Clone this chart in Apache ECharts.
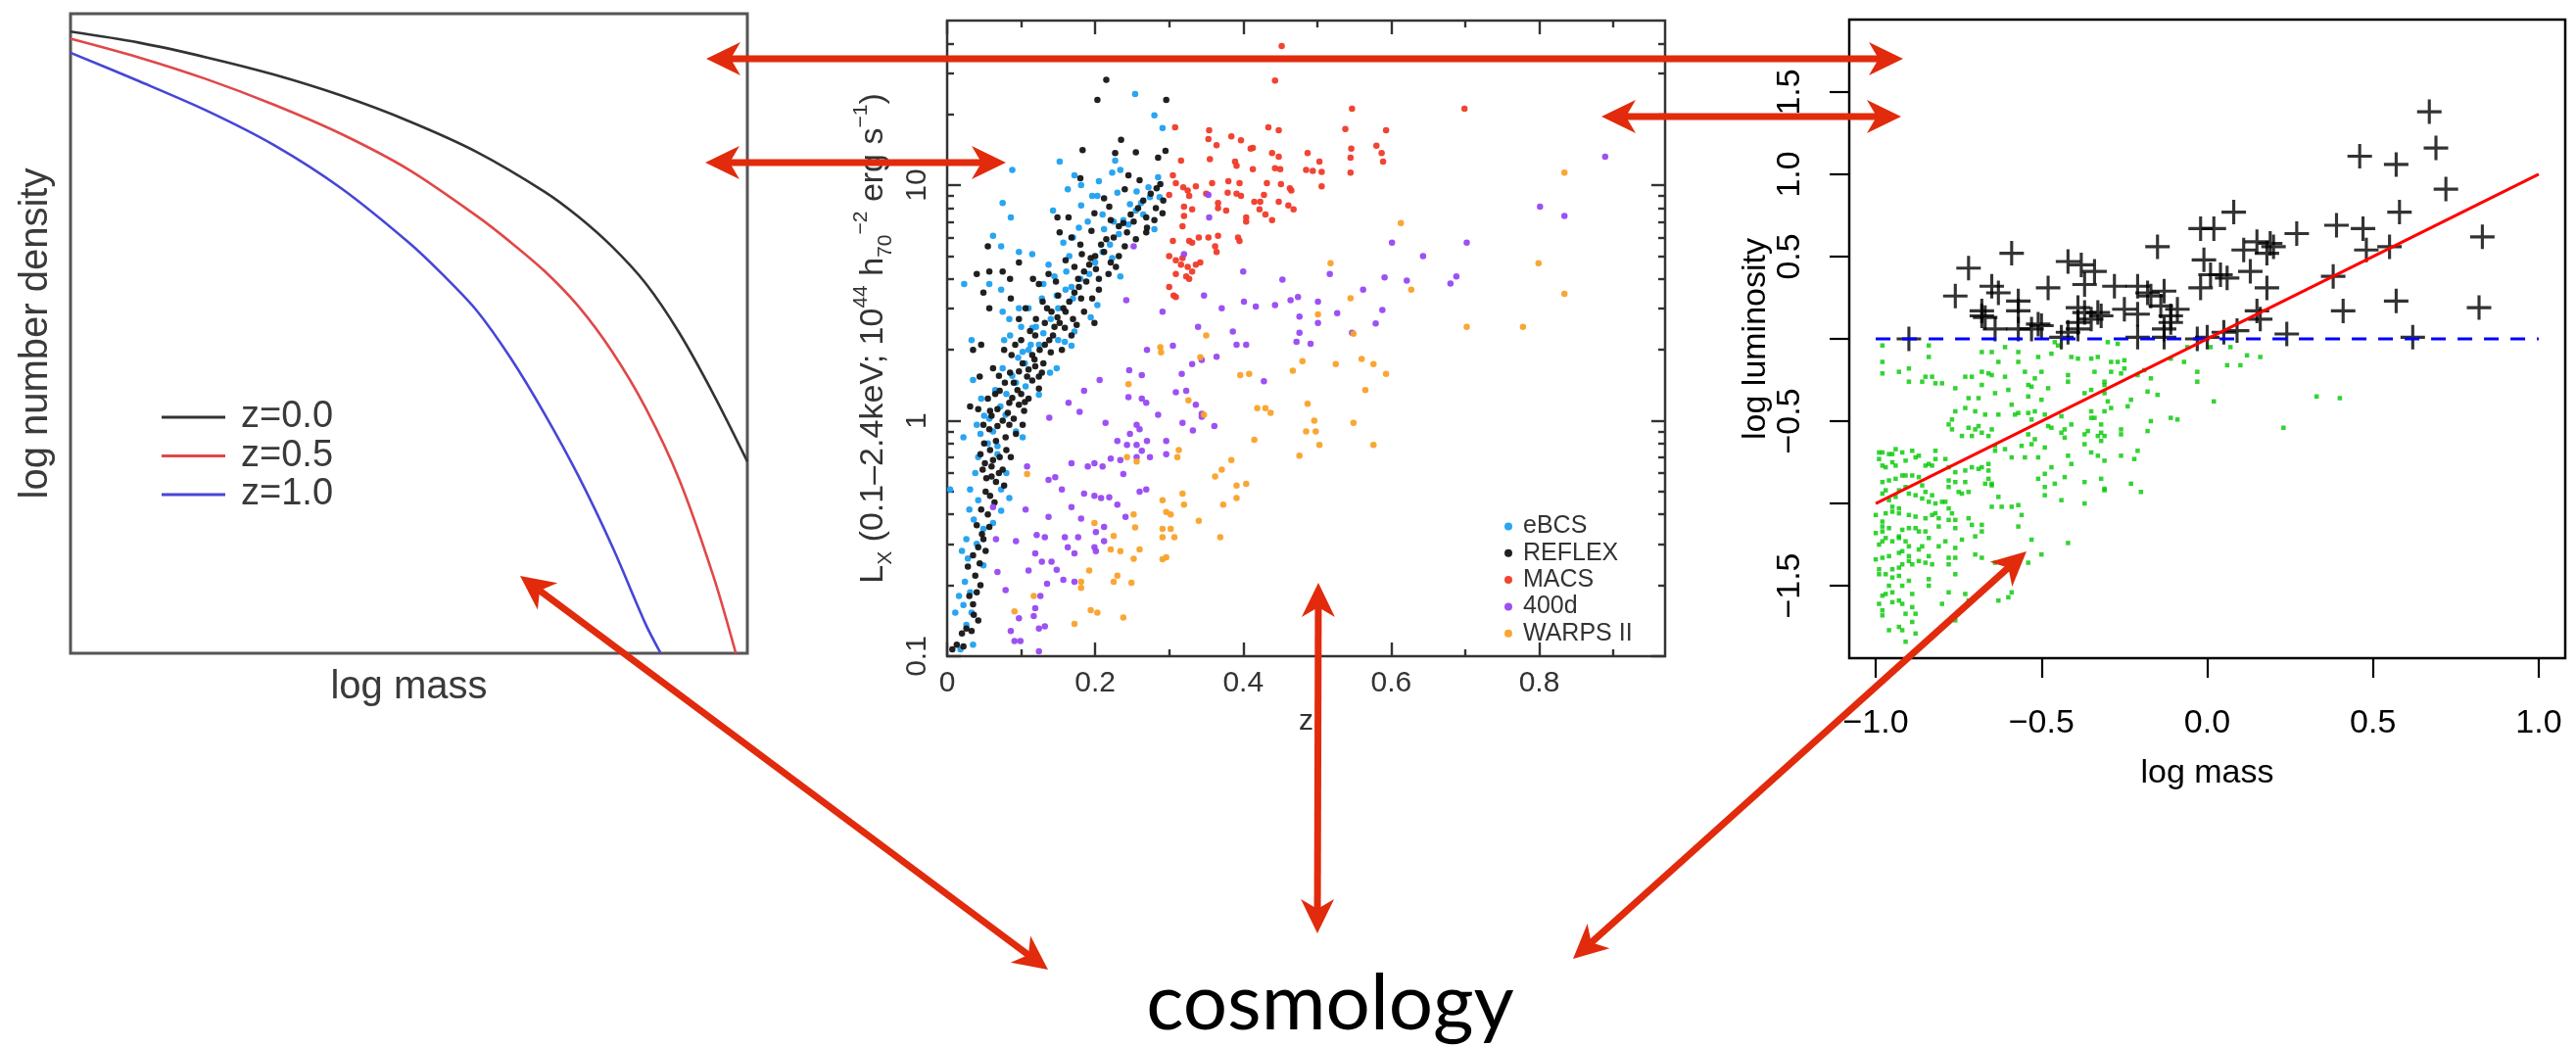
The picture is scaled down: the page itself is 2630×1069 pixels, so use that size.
<!DOCTYPE html>
<html>
<head>
<meta charset="utf-8">
<script src="https://cdn.jsdelivr.net/npm/echarts@6/dist/echarts.min.js"></script>
<style>
  html, body { margin: 0; padding: 0; background: #fff; }
  #c { width: 2630px; height: 1069px; }
</style>
</head>
<body>
<div id="c"></div>
<script>
// ---------- halo mass function (normalised log mass, normalised log number density)
const hmfZ00 = [[0,0.972],[0.1,0.955],[0.2,0.932],[0.3,0.905],[0.4,0.872],[0.5,0.832],[0.6,0.784],[0.7,0.722],[0.75,0.683],[0.8,0.636],[0.85,0.578],[0.9,0.500],[0.95,0.405],[1.0,0.300]];
const hmfZ05 = [[0,0.961],[0.1,0.932],[0.2,0.898],[0.3,0.858],[0.4,0.812],[0.5,0.756],[0.6,0.684],[0.65,0.643],[0.7,0.598],[0.75,0.543],[0.8,0.472],[0.85,0.383],[0.9,0.270],[0.95,0.120],[0.983,0.0]];
const hmfZ10 = [[0,0.939],[0.1,0.895],[0.2,0.849],[0.3,0.795],[0.4,0.727],[0.5,0.642],[0.55,0.592],[0.6,0.536],[0.65,0.462],[0.7,0.375],[0.75,0.278],[0.8,0.168],[0.85,0.045],[0.872,0.0]];
const hmfNames = ['z=0.0', 'z=0.5', 'z=1.0'];

// ---------- X-ray cluster surveys: [redshift, Lx in 1e44 erg/s]
const ebcs = [[0.254,24.4],[0.280,19.8],[0.291,17.5],[0.152,12.6],[0.088,11.6],[0.227,12.7],[0.234,11.6],[0.223,11.3],[0.172,11.0],[0.181,10.0],[0.163,9.6],[0.075,8.4],[0.086,7.3],[0.196,9.0],[0.203,9.0],[0.230,9.3],[0.256,9.4],[0.274,8.9],[0.287,8.9],[0.247,8.3],[0.143,7.8],[0.210,7.5],[0.062,6.1],[0.073,5.5],[0.097,5.2],[0.115,5.1],[0.157,5.7],[0.170,6.0],[0.212,6.5],[0.225,7.0],[0.238,7.1],[0.280,6.5],[0.265,7.5],[0.223,4.9],[0.234,4.1],[0.137,4.6],[0.161,4.3],[0.023,3.8],[0.057,3.8],[0.073,3.6],[0.075,2.9],[0.084,2.7],[0.128,3.3],[0.148,3.4],[0.168,3.7],[0.194,2.75],[0.203,3.1],[0.033,2.2],[0.077,2.2],[0.110,2.0],[0.124,2.1],[0.150,2.2],[0.168,2.08],[0.172,2.39],[0.035,1.49],[0.075,1.67],[0.093,1.45],[0.106,1.40],[0.124,1.29],[0.046,1.24],[0.022,0.85],[0.040,0.96],[0.057,1.02],[0.079,1.06],[0.093,0.90],[0.102,0.85],[0.004,0.51],[0.031,0.51],[0.073,0.51],[0.084,0.47],[0.073,0.415],[0.026,0.314],[0.049,0.347],[0.062,0.368],[0.024,0.207],[0.031,0.187],[0.049,0.243],[0.011,0.153],[0.033,0.153],[0.026,0.136],[0.035,0.112],[0.018,0.107],[0.102,1.96],[0.115,2.48],[0.139,1.60],[0.148,1.67],[0.159,2.16],[0.181,8.2],[0.097,3.0],
  [0.055,0.80],[0.062,0.90],[0.068,0.78],[0.072,1.15],[0.080,1.30],[0.088,1.55],[0.096,1.85],[0.105,1.75],[0.113,2.1],[0.120,2.5],[0.130,2.35],[0.140,2.7],[0.150,3.0],[0.160,3.6],[0.170,3.3],[0.180,4.0],[0.192,4.2],[0.200,4.7],[0.210,5.2],[0.220,5.6],[0.232,6.2],[0.245,6.8],[0.255,7.8],[0.262,8.4],[0.272,9.8],[0.285,10.8],[0.205,10.4],[0.190,7.0],[0.178,6.6],[0.165,5.0],[0.145,4.1],[0.130,3.8],[0.110,3.0],[0.100,2.5],[0.085,2.3],[0.065,1.35],[0.050,1.05],[0.042,0.70],[0.038,0.60],[0.030,0.42],[0.036,0.38],[0.042,0.46],[0.020,0.28],[0.028,0.26],[0.016,0.18],[0.022,0.165],[0.040,0.30],[0.068,0.72],[0.080,0.60],[0.045,0.88]];
const reflex = [[0.215,28],[0.203,23],[0.296,23],[0.235,15.6],[0.183,14.1],[0.255,13.8],[0.295,14.0],[0.227,13.7],[0.285,13.1],[0.245,11.0],[0.180,10.7],[0.283,9.7],[0.219,8.1],[0.199,7.6],[0.149,7.3],[0.164,7.3],[0.252,7.0],[0.269,7.3],[0.291,7.6],[0.280,7.1],[0.221,7.1],[0.232,6.7],[0.243,6.3],[0.269,6.3],[0.055,5.5],[0.152,6.3],[0.168,6.0],[0.182,5.1],[0.194,4.9],[0.212,5.2],[0.221,4.7],[0.232,5.0],[0.201,4.4],[0.205,4.0],[0.185,4.3],[0.177,4.0],[0.147,3.9],[0.137,4.2],[0.124,3.8],[0.116,4.0],[0.097,4.7],[0.085,4.0],[0.075,4.3],[0.057,4.3],[0.040,4.2],[0.049,3.5],[0.057,3.0],[0.086,3.3],[0.097,2.7],[0.106,3.0],[0.129,3.2],[0.132,2.6],[0.141,2.9],[0.157,3.0],[0.170,2.7],[0.181,3.3],[0.196,3.3],[0.199,2.6],[0.168,2.3],[0.143,2.3],[0.132,2.1],[0.119,2.3],[0.115,1.9],[0.102,1.75],[0.087,1.9],[0.077,2.0],[0.046,2.1],[0.035,2.0],[0.044,1.54],[0.062,1.67],[0.097,1.62],[0.108,1.54],[0.119,1.70],[0.124,1.37],[0.110,1.24],[0.097,1.17],[0.084,1.19],[0.071,1.34],[0.055,1.24],[0.031,1.15],[0.042,1.12],[0.049,0.96],[0.057,0.92],[0.066,0.82],[0.079,0.85],[0.093,0.88],[0.102,0.96],[0.071,0.70],[0.060,0.64],[0.053,0.57],[0.066,0.55],[0.077,0.53],[0.064,0.45],[0.055,0.40],[0.057,0.354],[0.049,0.314],[0.042,0.290],[0.035,0.268],[0.044,0.248],[0.040,0.187],[0.035,0.166],[0.042,0.142],[0.026,0.131],[0.013,0.112],[0.022,0.110],[0.007,0.107],[0.051,0.66],[0.084,0.96],[0.104,1.10],[0.115,1.48],[0.124,1.54],[0.149,2.75],[0.159,2.48],[0.172,4.5],
  [0.060,1.05],[0.068,1.12],[0.075,1.0],[0.082,1.08],[0.088,1.25],[0.095,1.35],[0.090,1.45],[0.100,1.30],[0.110,1.65],[0.118,1.82],[0.125,2.0],[0.130,1.75],[0.138,2.2],[0.145,2.5],[0.152,2.6],[0.160,2.9],[0.165,3.2],[0.172,3.5],[0.178,3.7],[0.188,3.9],[0.192,4.6],[0.200,5.0],[0.208,5.6],[0.215,5.9],[0.225,6.0],[0.238,6.9],[0.248,7.5],[0.258,8.0],[0.265,8.6],[0.275,9.2],[0.288,10.1],[0.260,10.5],[0.240,9.6],[0.212,8.8],[0.195,6.4],[0.180,5.6],[0.160,4.8],[0.150,3.4],[0.135,3.0],[0.120,2.7],[0.112,2.4],[0.100,2.2],[0.092,2.1],[0.085,1.6],[0.078,1.45],[0.070,1.55],[0.065,1.3],[0.058,1.1],[0.050,0.80],[0.058,0.75],[0.062,0.68],[0.070,0.60],[0.075,0.62],[0.080,0.75],[0.086,0.70],[0.045,0.72],[0.048,0.62],[0.052,0.50],[0.058,0.48],[0.046,0.42],[0.040,0.36],[0.047,0.33],[0.052,0.28],[0.038,0.22],[0.045,0.20],[0.030,0.18],[0.036,0.15],[0.028,0.24],[0.020,0.125],[0.033,0.128],[0.060,0.58],[0.068,0.95],[0.090,1.02],[0.105,1.20],[0.128,1.60],[0.140,1.95],[0.155,2.0],[0.175,2.55],[0.185,2.9],[0.205,3.6],[0.218,4.2],[0.228,4.5],[0.240,5.5],[0.255,5.9],[0.270,6.6],[0.282,8.0],[0.292,8.6]];
const macs = [[0.308,17.6],[0.354,17.1],[0.353,15.7],[0.384,16.1],[0.397,15.5],[0.364,14.8],[0.410,14.3],[0.413,14.4],[0.316,12.7],[0.355,12.9],[0.389,12.6],[0.391,12.1],[0.413,11.7],[0.305,11.0],[0.309,10.2],[0.319,9.8],[0.325,9.5],[0.336,9.9],[0.358,10.2],[0.380,10.4],[0.395,10.2],[0.300,9.1],[0.327,9.0],[0.350,9.2],[0.366,8.4],[0.366,8.0],[0.379,9.3],[0.391,9.2],[0.397,9.0],[0.415,8.5],[0.422,7.9],[0.320,8.1],[0.331,7.9],[0.320,7.4],[0.377,7.8],[0.404,7.3],[0.404,7.0],[0.318,6.7],[0.305,5.8],[0.327,5.8],[0.340,6.0],[0.331,5.7],[0.353,6.0],[0.366,6.1],[0.393,6.0],[0.395,5.8],[0.362,5.5],[0.364,5.2],[0.300,5.0],[0.309,4.8],[0.316,4.6],[0.325,4.5],[0.336,4.6],[0.342,4.7],[0.331,4.3],[0.323,4.1],[0.309,4.2],[0.300,3.7],[0.306,3.4],[0.309,3.35],[0.327,4.0],[0.318,4.9],[0.452,39],[0.443,27.8],[0.547,21.1],[0.699,21.1],[0.434,17.6],[0.448,17.1],[0.538,17.3],[0.593,17.1],[0.439,13.7],[0.448,13.2],[0.487,13.7],[0.546,14.3],[0.580,14.7],[0.587,13.7],[0.589,12.6],[0.545,13.1],[0.503,12.6],[0.485,11.6],[0.494,11.5],[0.506,11.4],[0.545,11.3],[0.443,11.8],[0.450,11.7],[0.432,10.2],[0.451,10.1],[0.463,9.7],[0.465,9.5],[0.506,9.9],[0.428,9.1],[0.423,8.5],[0.448,8.5],[0.461,8.2],[0.468,7.9],[0.430,7.5],[0.439,7.1]];
const survey400d = [[0.353,9.1],[0.354,7.3],[0.320,5.1],[0.252,5.5],[0.400,4.3],[0.347,3.4],[0.371,3.0],[0.401,3.2],[0.417,3.05],[0.242,3.25],[0.291,2.9],[0.339,2.5],[0.386,2.39],[0.391,2.1],[0.404,2.1],[0.270,2.0],[0.305,2.08],[0.364,1.87],[0.331,1.74],[0.344,1.81],[0.246,1.64],[0.263,1.56],[0.317,1.58],[0.206,1.49],[0.185,1.34],[0.245,1.26],[0.263,1.24],[0.269,1.19],[0.309,1.32],[0.323,1.34],[0.336,1.17],[0.344,1.07],[0.361,0.95],[0.285,1.06],[0.179,1.09],[0.138,1.03],[0.164,1.19],[0.214,0.98],[0.256,0.96],[0.260,0.92],[0.247,0.88],[0.230,0.82],[0.243,0.79],[0.256,0.79],[0.270,0.82],[0.296,0.82],[0.318,0.98],[0.332,0.91],[0.344,1.04],[0.296,0.72],[0.274,0.70],[0.263,0.745],[0.256,0.70],[0.234,0.68],[0.221,0.69],[0.210,0.64],[0.199,0.66],[0.190,0.64],[0.168,0.66],[0.137,0.56],[0.146,0.575],[0.155,0.51],[0.185,0.49],[0.199,0.48],[0.208,0.47],[0.219,0.473],[0.230,0.44],[0.238,0.594],[0.241,0.39],[0.260,0.50],[0.269,0.51],[0.106,0.42],[0.108,0.64],[0.168,0.43],[0.181,0.384],[0.177,0.32],[0.201,0.337],[0.212,0.354],[0.212,0.308],[0.199,0.290],[0.137,0.39],[0.121,0.327],[0.132,0.32],[0.159,0.32],[0.163,0.29],[0.172,0.273],[0.201,0.279],[0.119,0.273],[0.128,0.252],[0.141,0.252],[0.148,0.233],[0.157,0.211],[0.172,0.207],[0.110,0.231],[0.093,0.308],[0.066,0.314],[0.068,0.228],[0.079,0.191],[0.135,0.203],[0.126,0.180],[0.119,0.160],[0.097,0.145],[0.117,0.148],[0.124,0.131],[0.132,0.134],[0.086,0.128],[0.091,0.116],[0.099,0.116],[0.124,0.105],[0.062,0.43],[0.801,8.1],[0.834,7.4],[0.601,5.7],[0.702,5.7],[0.643,5.0],[0.453,3.97],[0.517,4.2],[0.591,4.06],[0.621,3.93],[0.680,3.82],[0.688,4.1],[0.562,3.6],[0.443,3.1],[0.464,3.25],[0.474,3.35],[0.501,3.2],[0.527,2.86],[0.588,2.95],[0.476,2.77],[0.501,2.6],[0.579,2.59],[0.476,2.36],[0.472,2.16],[0.491,2.12],[0.547,2.36],[0.428,1.47],[0.889,13.2]];
const warps = [[0.350,2.30],[0.288,2.05],[0.289,1.95],[0.342,1.86],[0.396,1.56],[0.408,1.58],[0.245,1.43],[0.326,1.22],[0.419,1.13],[0.347,1.06],[0.313,0.75],[0.311,0.70],[0.256,0.67],[0.243,0.70],[0.384,0.68],[0.371,0.62],[0.362,0.58],[0.404,0.54],[0.391,0.53],[0.391,0.47],[0.318,0.49],[0.320,0.44],[0.373,0.44],[0.291,0.46],[0.296,0.41],[0.302,0.40],[0.252,0.40],[0.340,0.376],[0.369,0.32],[0.291,0.347],[0.302,0.347],[0.307,0.32],[0.291,0.32],[0.254,0.352],[0.225,0.324],[0.199,0.368],[0.221,0.284],[0.234,0.279],[0.252,0.259],[0.291,0.258],[0.296,0.263],[0.260,0.284],[0.192,0.231],[0.225,0.207],[0.230,0.220],[0.249,0.205],[0.181,0.207],[0.181,0.195],[0.108,0.594],[0.194,0.157],[0.203,0.153],[0.238,0.146],[0.172,0.137],[0.091,0.155],[0.117,0.180],[0.834,11.3],[0.613,6.9],[0.518,4.66],[0.799,4.66],[0.834,3.46],[0.627,3.6],[0.545,3.31],[0.501,2.83],[0.702,2.5],[0.778,2.5],[0.549,2.34],[0.480,1.79],[0.467,1.63],[0.525,1.74],[0.560,1.83],[0.576,1.74],[0.593,1.58],[0.565,1.35],[0.487,1.18],[0.430,1.13],[0.437,1.08],[0.496,1.0],[0.549,0.98],[0.485,0.90],[0.498,0.90],[0.503,0.79],[0.576,0.79],[0.476,0.71],[0.415,0.83]];
const surveyNames = ['eBCS', 'REFLEX', 'MACS', '400d', 'WARPS II'];
const zMajor = [0, 0.2, 0.4, 0.6, 0.8];
const zMinor = [0.1, 0.3, 0.5, 0.7, 0.9];
const lxMajor = [0.1, 1, 10];
const lxMinor = [0.2,0.3,0.4,0.5,0.6,0.7,0.8,0.9,2,3,4,5,6,7,8,9,20,30,40];

// ---------- simulated mass-luminosity sample: [log mass, log luminosity]
const detected = [[-0.90,0.00],[-0.76,0.26],[-0.72,0.43],[-0.68,0.17],[-0.67,0.13],[-0.65,0.32],[-0.63,0.28],[-0.64,0.06],[-0.59,0.52],[-0.57,0.23],[-0.57,0.17],[-0.57,0.06],[-0.53,0.06],[-0.50,0.08],[-0.48,0.31],[-0.44,0.01],[-0.42,0.47],[-0.39,0.06],[-0.38,0.45],[-0.37,0.33],[-0.39,0.19],[-0.37,0.16],[-0.34,0.41],[-0.35,0.12],[-0.32,0.14],[-0.28,0.32],[-0.25,0.18],[-0.21,0.01],[-0.21,0.32],[-0.21,0.15],[-0.17,0.26],[-0.15,0.56],[-0.14,0.20],[-0.13,0.29],[-0.13,0.06],[-0.13,0.01],[-0.11,0.10],[-0.09,0.18],[-0.02,0.67],[0.02,0.67],[-0.01,0.48],[-0.02,0.31],[0.01,0.39],[0.04,0.39],[0.06,0.37],[0.08,0.77],[0.00,0.01],[0.05,0.04],[0.09,0.05],[0.13,0.41],[0.11,0.54],[0.15,0.59],[0.18,0.52],[0.20,0.56],[0.18,0.31],[0.15,0.17],[0.16,0.12],[0.24,0.03],[0.27,0.64],[0.38,0.38],[0.39,0.69],[0.41,0.17],[0.47,0.67],[0.48,0.54],[0.46,1.11],[0.55,0.56],[0.57,1.06],[0.58,0.77],[0.57,0.23],[0.62,0.01],[0.67,1.38],[0.69,1.16],[0.72,0.91],[0.83,0.62],[0.82,0.19],[-0.18,0.28],[-0.11,0.14],[-0.33,0.16],[-0.42,0.04],[-0.51,0.09],[-0.68,0.14],[-0.39,0.10],[-0.03,0.00],[0.19,0.58]];
const undetected = [[-0.98,-0.04],[-0.98,-0.14],[-0.98,-0.21],[-0.84,-0.04],[-0.84,-0.11],[-0.90,-0.18],[-0.93,-0.20],[-0.90,-0.26],[-0.86,-0.26],[-0.85,-0.23],[-0.83,-0.23],[-0.82,-0.27],[-0.80,-0.27],[-0.76,-0.30],[-0.73,-0.23],[-0.71,-0.23],[-0.68,-0.20],[-0.68,-0.28],[-0.66,-0.21],[-0.65,-0.22],[-0.64,-0.33],[-0.63,-0.14],[-0.61,-0.23],[-0.60,-0.31],[-0.59,-0.40],[-0.68,-0.08],[-0.65,-0.08],[-0.61,-0.05],[-0.57,-0.08],[-0.57,-0.14],[-0.55,-0.20],[-0.54,-0.28],[-0.53,-0.29],[-0.52,-0.24],[-0.50,-0.20],[-0.50,-0.37],[-0.48,-0.30],[-0.54,-0.35],[-0.47,-0.09],[-0.46,-0.02],[-0.45,-0.04],[-0.51,-0.11],[-0.42,-0.22],[-0.42,-0.26],[-0.41,-0.11],[-0.39,-0.12],[-0.37,-0.33],[-0.35,-0.31],[-0.35,-0.12],[-0.33,-0.11],[-0.34,-0.20],[-0.31,-0.26],[-0.31,-0.28],[-0.29,-0.20],[-0.29,-0.14],[-0.27,-0.14],[-0.26,-0.21],[-0.25,-0.18],[-0.25,-0.13],[-0.30,-0.02],[-0.27,-0.03],[-0.21,-0.22],[-0.19,-0.19],[-0.17,-0.24],[-0.18,-0.32],[-0.15,-0.34],[-0.11,-0.12],[-0.07,-0.14],[-0.06,-0.05],[-0.03,-0.20],[-0.03,-0.26],[0.01,-0.05],[0.06,-0.16],[0.07,-0.05],[0.10,-0.16],[0.12,-0.10],[0.16,-0.11],[0.02,-0.38],[0.33,-0.35],[0.40,-0.36],[0.23,-0.54],[-0.11,-0.48],[-0.09,-0.49],[-0.17,-0.50],[-0.18,-0.56],[-0.23,-0.37],[-0.24,-0.41],[-0.26,-0.55],[-0.26,-0.58],[-0.21,-0.68],[-0.22,-0.73],[-0.26,-0.71],[-0.23,-0.88],[-0.20,-0.93],[-0.31,-0.74],[-0.33,-0.71],[-0.35,-0.69],[-0.37,-0.64],[-0.37,-0.58],[-0.36,-0.56],[-0.33,-0.59],[-0.32,-0.62],[-0.32,-0.57],[-0.31,-0.59],[-0.29,-0.42],[-0.31,-0.44],[-0.30,-0.38],[-0.31,-0.33],[-0.35,-0.44],[-0.35,-0.48],[-0.34,-0.48],[-0.32,-0.52],[-0.41,-0.52],[-0.43,-0.55],[-0.43,-0.60],[-0.44,-0.57],[-0.44,-0.47],[-0.47,-0.54],[-0.49,-0.46],[-0.49,-0.66],[-0.51,-0.72],[-0.53,-0.64],[-0.54,-0.58],[-0.52,-0.61],[-0.56,-0.65],[-0.55,-0.72],[-0.59,-0.72],[-0.61,-0.67],[-0.64,-0.68],[-0.64,-0.65],[-0.66,-0.59],[-0.68,-0.57],[-0.69,-0.53],[-0.65,-0.55],[-0.70,-0.55],[-0.72,-0.54],[-0.71,-0.59],[-0.74,-0.59],[-0.77,-0.55],[-0.78,-0.52],[-0.77,-0.49],[-0.76,-0.44],[-0.73,-0.42],[-0.70,-0.44],[-0.72,-0.36],[-0.69,-0.36],[-0.67,-0.46],[-0.63,-0.46],[-0.58,-0.46],[-0.57,-0.45],[-0.54,-0.45],[-0.52,-0.44],[-0.53,-0.49],[-0.48,-0.53],[-0.47,-0.78],[-0.49,-0.82],[-0.51,-0.85],[-0.49,-0.90],[-0.49,-0.95],[-0.46,-0.88],[-0.42,-0.71],[-0.41,-0.76],[-0.43,-0.84],[-0.44,-0.98],[-0.37,-0.87],[-0.37,-1.00],[-0.32,-0.85],[-0.31,-0.91],[-0.31,-0.92],[-0.42,-1.24],[-0.53,-1.22],[-0.50,-1.31],[-0.54,-1.36],[-0.57,-1.14],[-0.56,-1.07],[-0.57,-1.01],[-0.59,-1.02],[-0.62,-1.02],[-0.63,-0.96],[-0.65,-1.02],[-0.65,-0.89],[-0.67,-0.88],[-0.66,-0.85],[-0.65,-0.88],[-0.66,-0.80],[-0.68,-0.78],[-0.66,-0.76],[-0.69,-0.79],[-0.71,-0.78],[-0.73,-0.80],[-0.73,-0.87],[-0.72,-0.93],[-0.74,-0.94],[-0.75,-0.93],[-0.78,-0.90],[-0.78,-0.86],[-0.76,-0.81],[-0.76,-0.87],[-0.78,-0.78],[-0.79,-0.73],[-0.82,-0.68],[-0.82,-0.73],[-0.83,-0.77],[-0.84,-0.76],[-0.85,-0.77],[-0.87,-0.71],[-0.88,-0.72],[-0.89,-0.68],[-0.91,-0.74],[-0.92,-0.69],[-0.94,-0.67],[-0.95,-0.70],[-0.96,-0.70],[-0.98,-0.69],[-0.99,-0.69],[-0.99,-0.73],[-0.98,-0.77],[-0.97,-0.78],[-0.95,-0.75],[-0.94,-0.77],[-0.92,-0.83],[-0.91,-0.83],[-0.94,-0.85],[-0.96,-0.86],[-0.98,-0.87],[-0.98,-0.94],[-0.97,-0.92],[-0.93,-0.92],[-0.90,-0.94],[-0.88,-0.95],[-0.86,-0.97],[-0.84,-0.99],[-0.82,-1.00],[-0.80,-0.99],[-0.79,-0.99],[-0.78,-1.03],[-0.77,-1.06],[-0.78,-1.10],[-0.81,-1.09],[-0.83,-1.07],[-0.85,-1.09],[-0.88,-1.08],[-0.90,-1.07],[-0.93,-1.06],[-0.95,-1.05],[-0.97,-1.06],[-0.98,-1.11],[-0.98,-1.14],[-1.00,-1.18],[-0.98,-1.17],[-0.96,-1.15],[-0.93,-1.20],[-0.92,-1.16],[-0.90,-1.15],[-0.88,-1.15],[-0.87,-1.17],[-0.85,-1.17],[-0.84,-1.21],[-0.81,-1.26],[-0.79,-1.23],[-0.76,-1.27],[-0.74,-1.22],[-0.70,-1.20],[-0.68,-1.17],[-0.68,-1.13],[-0.71,-1.13],[-0.72,-1.09],[-0.76,-1.10],[-0.76,-1.15],[-0.81,-1.14],[-0.82,-1.06],[-0.83,-0.95],[-0.85,-0.93],[-0.86,-0.89],[-0.87,-0.84],[-0.89,-0.83],[-0.91,-0.90],[-0.94,-0.96],[-0.96,-0.98],[-0.95,-1.02],[-0.93,-1.03],[-1.00,-1.07],[-0.99,-1.25],[-0.98,-1.23],[-0.97,-1.21],[-0.95,-1.23],[-0.93,-1.21],[-0.91,-1.23],[-0.90,-1.26],[-0.87,-1.28],[-0.86,-1.26],[-0.84,-1.32],[-0.83,-1.37],[-0.85,-1.36],[-0.87,-1.35],[-0.89,-1.37],[-0.90,-1.35],[-0.92,-1.37],[-0.93,-1.39],[-0.95,-1.40],[-0.97,-1.43],[-0.99,-1.43],[-0.99,-1.40],[-1.00,-1.34],[-0.98,-1.33],[-0.96,-1.32],[-0.93,-1.30],[-0.92,-1.29],[-0.90,-1.32],[-0.95,-1.45],[-0.93,-1.44],[-0.92,-1.50],[-0.90,-1.47],[-0.96,-1.50],[-0.98,-1.56],[-0.97,-1.55],[-0.95,-1.54],[-0.99,-1.61],[-0.98,-1.65],[-0.98,-1.68],[-0.95,-1.60],[-0.93,-1.59],[-0.92,-1.61],[-0.89,-1.63],[-0.88,-1.67],[-0.91,-1.67],[-0.89,-1.55],[-0.84,-1.50],[-0.84,-1.46],[-0.78,-1.54],[-0.73,-1.55],[-0.80,-1.61],[-0.76,-1.43],[-0.70,-1.31],[-0.68,-1.33],[-0.64,-1.36],[-0.63,-1.59],[-0.60,-1.57],[-0.59,-1.54],[-0.76,-1.71],[-0.72,-1.59],[-0.89,-1.72],[-0.88,-1.79],[-0.96,-1.77],[-0.92,-1.77],[-0.91,-1.84],[-0.93,-1.75],[-0.78,-1.33],[-0.78,-1.37],[-0.76,-1.33]];
const fitLine = [[-1, -1], [1, 1]];
const fluxLimit = [[-1, 0], [1, 0]];
const massTicks = [-1, -0.5, 0, 0.5, 1];
const lumTicks = [-1.5, -1, -0.5, 0, 0.5, 1, 1.5];
const lumLabels = [-1.5, -0.5, 0.5, 1, 1.5];

// ---------- styling
const SANS = "'Liberation Sans', Arial, Helvetica, sans-serif";
const RED = '#e12b0c';
const SURVEY_COLORS = ['#1ea0f0', '#141414', '#f03a28', '#9848f2', '#f9a229'];
const HMF_COLORS = ['#333333', '#e04848', '#4646d8'];
const rFmt = v => (v < 0 ? '\u2212' : '') + Math.abs(v).toFixed(1);
const PLUS = 'path://M10.5,0H13.5V10.5H24V13.5H13.5V24H10.5V13.5H0V10.5H10.5Z';

function hiddenAxis(grid, extra) {
  return Object.assign({
    gridIndex: grid, type: 'value', axisLine: { show: false, onZero: false }, axisTick: { show: false },
    axisLabel: { show: false }, splitLine: { show: false }
  }, extra);
}

// inward-pointing tick axis for the survey panel
function idlAxis(kind, pos, values, len, labels) {
  const ax = {
    gridIndex: 1, position: pos,
    axisLine: { show: false, onZero: false }, splitLine: { show: false },
    axisTick: { show: true, inside: true, length: len, customValues: values,
      lineStyle: { color: '#333', width: 2.4 } },
    axisLabel: { show: false }
  };
  if (kind === 'x') {
    Object.assign(ax, { type: 'value', min: 0, max: 0.97 });
  } else {
    Object.assign(ax, { type: 'log', logBase: 10, min: 0.1, max: 50 });
  }
  if (labels) Object.assign(ax.axisLabel, labels, { show: true });
  return ax;
}

// double-headed arrow built from a shaft and two notched heads
function arrow(x1, y1, x2, y2) {
  const dx = x2 - x1, dy = y2 - y1, len = Math.hypot(dx, dy);
  const ux = dx / len, uy = dy / len, px = -uy, py = ux;
  const L = 35, W = 17, N = 25;
  const head = (tx, ty, sx, sy) => [[tx, ty], [tx + sx * L + px * W, ty + sy * L + py * W],
    [tx + sx * N, ty + sy * N], [tx + sx * L - px * W, ty + sy * L - py * W]];
  return [
    { type: 'line', z: 100, shape: { x1: x1 + ux * N, y1: y1 + uy * N, x2: x2 - ux * N, y2: y2 - uy * N },
      style: { stroke: RED, lineWidth: 7 } },
    { type: 'polygon', z: 100, shape: { points: head(x1, y1, ux, uy) }, style: { fill: RED } },
    { type: 'polygon', z: 100, shape: { points: head(x2, y2, -ux, -uy) }, style: { fill: RED } }
  ];
}

const arrows = [].concat(
  arrow(721, 60, 1943, 60),
  arrow(720, 166, 1027, 166),
  arrow(1635, 119, 1941, 119),
  arrow(531, 588, 1070, 990),
  arrow(1346, 595, 1345, 953),
  arrow(2069, 563, 1606, 979)
);

const chart = echarts.init(document.getElementById('c'), null, { renderer: 'canvas', width: 2630, height: 1069 });

const option = {
  animation: false,
  backgroundColor: '#fff',
  grid: [
    { left: 72, top: 14, width: 691, height: 653, show: true, borderColor: '#555', borderWidth: 3,
      backgroundColor: 'transparent', containLabel: false, outerBoundsMode: 'none' },
    { left: 967, top: 21, width: 733, height: 649, show: true, borderColor: '#333', borderWidth: 2.5,
      backgroundColor: 'transparent', containLabel: false, outerBoundsMode: 'none' },
    { left: 1888, top: 20, width: 731, height: 652, show: true, borderColor: '#000', borderWidth: 2.5,
      backgroundColor: 'transparent', containLabel: false, outerBoundsMode: 'none' }
  ],
  legend: [
    { data: hmfNames, orient: 'vertical', left: 160, top: 402, icon: 'rect', itemWidth: 65, itemHeight: 3, itemGap: 1.5,
      selectedMode: false, textStyle: { fontSize: 38, color: '#3a3a3a', fontFamily: SANS, padding: [0, 0, 0, 11] } },
    { data: surveyNames, orient: 'vertical', left: 1531, top: 520, itemWidth: 8, itemHeight: 8, itemGap: 2.3,
      icon: 'circle', selectedMode: false,
      textStyle: { fontSize: 25, color: '#333', fontFamily: SANS, padding: [0, 0, 0, 6] } }
  ],
  xAxis: [
    hiddenAxis(0, { min: 0, max: 1, name: 'log mass', nameLocation: 'middle', nameGap: 15,
      nameTextStyle: { fontSize: 40, color: '#3a3a3a', fontFamily: SANS } }),
    Object.assign(idlAxis('x', 'bottom', zMajor, 14, { margin: 13, fontSize: 30, color: '#333', fontFamily: SANS,
      customValues: zMajor, formatter: v => String(+v.toFixed(1)) }),
      { name: 'z', nameLocation: 'middle', nameGap: 52, nameTextStyle: { fontSize: 30, color: '#333', fontFamily: SANS } }),
    idlAxis('x', 'bottom', zMinor, 7),
    idlAxis('x', 'top', zMajor, 14),
    idlAxis('x', 'top', zMinor, 7),
    {
      gridIndex: 2, type: 'value', min: -1.08, max: 1.08, position: 'bottom',
      axisLine: { show: false, onZero: false }, splitLine: { show: false },
      axisTick: { show: true, inside: false, length: 20, customValues: massTicks, lineStyle: { color: '#000', width: 2.2 } },
      axisLabel: { show: true, customValues: massTicks, margin: 50, fontSize: 34, color: '#000', fontFamily: SANS, formatter: rFmt },
      name: 'log mass', nameLocation: 'middle', nameGap: 101,
      nameTextStyle: { fontSize: 34, color: '#000', fontFamily: SANS }
    }
  ],
  yAxis: [
    hiddenAxis(0, { min: 0, max: 1, name: 'log number density', nameLocation: 'middle', nameGap: 15, nameRotate: 90,
      nameTextStyle: { fontSize: 40, color: '#3a3a3a', fontFamily: SANS } }),
    Object.assign(idlAxis('y', 'left', lxMajor, 14, { margin: 15, fontSize: 30, color: '#333', fontFamily: SANS, rotate: 90,
      customValues: lxMajor, formatter: v => String(+Number(v).toPrecision(2)) }),
      {
        name: '{t|L}{sb|X}{t| (0.1\u20132.4keV; 10}{sp|44}{t| h}{sb|70}{sp|\u22122}{t| erg s}{sp|\u22121}{t|)}',
        nameLocation: 'middle', nameGap: 52, nameRotate: 90,
        nameTextStyle: {
          fontSize: 34, color: '#333', fontFamily: SANS,
          rich: {
            t: { fontSize: 34, lineHeight: 46, color: '#333', fontFamily: SANS },
            sb: { fontSize: 21, lineHeight: 23, verticalAlign: 'bottom', color: '#333', fontFamily: SANS },
            sp: { fontSize: 21, lineHeight: 23, verticalAlign: 'top', color: '#333', fontFamily: SANS }
          }
        }
      }),
    idlAxis('y', 'left', lxMinor, 7),
    idlAxis('y', 'right', lxMajor, 14),
    idlAxis('y', 'right', lxMinor, 7),
    {
      gridIndex: 2, type: 'value', min: -1.94, max: 1.94, position: 'left',
      axisLine: { show: false, onZero: false }, splitLine: { show: false },
      axisTick: { show: true, inside: false, length: 20, customValues: lumTicks, lineStyle: { color: '#000', width: 2.2 } },
      axisLabel: { show: true, customValues: lumLabels, margin: 43, rotate: 90, fontSize: 34, color: '#000', fontFamily: SANS, formatter: rFmt },
      name: 'log luminosity', nameLocation: 'middle', nameGap: 73, nameRotate: 90,
      nameTextStyle: { fontSize: 34, color: '#000', fontFamily: SANS }
    }
  ],
  series: [
    // mass function curves
    ...[hmfZ00, hmfZ05, hmfZ10].map((d, i) => ({
      type: 'line', name: hmfNames[i], xAxisIndex: 0, yAxisIndex: 0, data: d,
      smooth: 0.3, symbol: 'none', clip: true,
      lineStyle: { width: 2.6, color: HMF_COLORS[i] },
      itemStyle: { color: HMF_COLORS[i] }
    })),
    // survey scatter
    ...[ebcs, reflex, macs, survey400d, warps].map((d, i) => ({
      type: 'scatter', name: surveyNames[i], xAxisIndex: 1, yAxisIndex: 1, data: d,
      symbol: 'circle', symbolSize: 6.5, itemStyle: { color: SURVEY_COLORS[i], opacity: 0.95 }
    })),
    // mass-luminosity panel
    { type: 'scatter', name: 'undetected', xAxisIndex: 5, yAxisIndex: 5, data: undetected,
      symbol: 'rect', symbolSize: 4.5, itemStyle: { color: '#00c800' } },
    { type: 'scatter', name: 'detected', xAxisIndex: 5, yAxisIndex: 5, data: detected,
      symbol: PLUS, symbolSize: 25, itemStyle: { color: '#000' } },
    { type: 'line', name: 'flux limit', xAxisIndex: 5, yAxisIndex: 5, data: fluxLimit, symbol: 'none',
      lineStyle: { color: '#0000ff', width: 3, type: [15, 12] }, z: 5 },
    { type: 'line', name: 'fit', xAxisIndex: 5, yAxisIndex: 5, data: fitLine, symbol: 'none',
      lineStyle: { color: '#ff0000', width: 3 }, z: 6 }
  ],
  graphic: arrows.concat([
    { type: 'text', z: 100, style: { text: 'cosmology', x: 1358, y: 1025, fontSize: 80, fontFamily: 'Lato',
      fill: '#000', align: 'center', verticalAlign: 'middle' } }
  ])
};

chart.setOption(option);
</script>
</body>
</html>
